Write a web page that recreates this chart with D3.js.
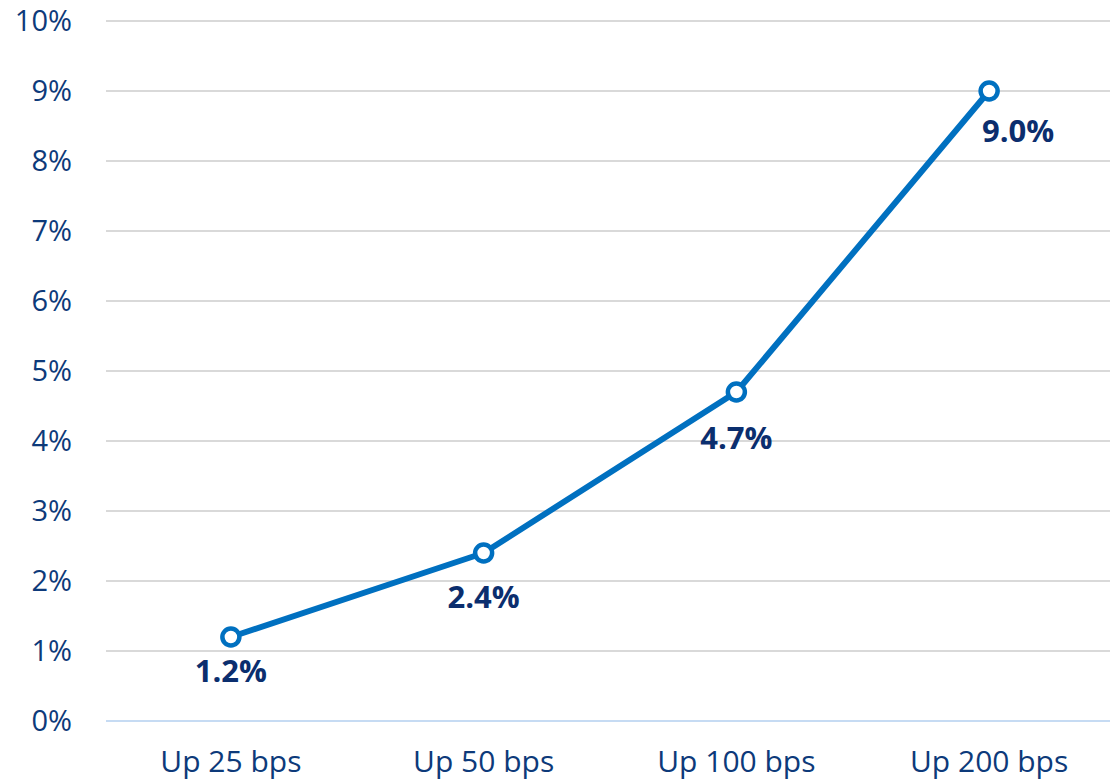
<!DOCTYPE html>
<html><head><meta charset="utf-8">
<script src="https://cdn.jsdelivr.net/npm/d3@7"></script>
<style>body{margin:0;background:#fff}svg{display:block}</style>
</head><body>
<svg id="c" width="1110" height="782"></svg>
<script>
const categories = ["Up 25 bps", "Up 50 bps", "Up 100 bps", "Up 200 bps"];
const values = [1.2, 2.4, 4.7, 9.0];
const yTicks = [0,1,2,3,4,5,6,7,8,9,10];
const labelDx = [0, 0, 0, 29];
const labelDy = [45, 55, 57, 51];

const svg = d3.select("#c");
const font = "'Open Sans', 'Noto Sans', sans-serif";
const x = d3.scaleBand().domain(categories).range([104.5, 1115.5]);
const y = d3.scaleLinear().domain([0, 10]).range([721, 21]);
const navy = "#0D3A7A";

const g = svg.append("g");
g.selectAll("line.grid").data(yTicks).join("line")
  .attr("x1", 106).attr("x2", 1110)
  .attr("y1", d => y(d)).attr("y2", d => y(d))
  .attr("stroke", d => d === 0 ? "#C6DBF3" : "#D9D9D9").attr("stroke-width", 2);

g.selectAll("text.yl").data(yTicks).join("text")
  .attr("x", 72).attr("y", d => y(d)).attr("dy", "0.36em")
  .attr("text-anchor", "end").attr("font-family", font).attr("font-size", 29)
  .attr("fill", navy).text(d => d + "%");

g.selectAll("text.xl").data(categories).join("text")
  .attr("x", d => x(d) + x.bandwidth()/2).attr("y", 772)
  .attr("text-anchor", "middle").attr("font-family", font).attr("font-size", 30)
  .attr("fill", navy).text(d => d);

const pts = categories.map((c,i) => [x(c) + x.bandwidth()/2, y(values[i])]);
g.append("path").attr("d", d3.line()(pts)).attr("fill", "none")
  .attr("stroke", "#0070C0").attr("stroke-width", 6).attr("stroke-linejoin", "round");

g.selectAll("circle").data(pts).join("circle")
  .attr("cx", d => d[0]).attr("cy", d => d[1]).attr("r", 8.5)
  .attr("fill", "#fff").attr("stroke", "#0070C0").attr("stroke-width", 4.5);

g.selectAll("text.dl").data(values).join("text")
  .attr("x", (d,i) => pts[i][0] + labelDx[i]).attr("y", (d,i) => pts[i][1] + labelDy[i])
  .attr("text-anchor", "middle").attr("font-family", font).attr("font-size", 31)
  .attr("font-weight", "bold").attr("fill", "#0B2E6E").text(d => d.toFixed(1) + "%");
</script>
</body></html>
